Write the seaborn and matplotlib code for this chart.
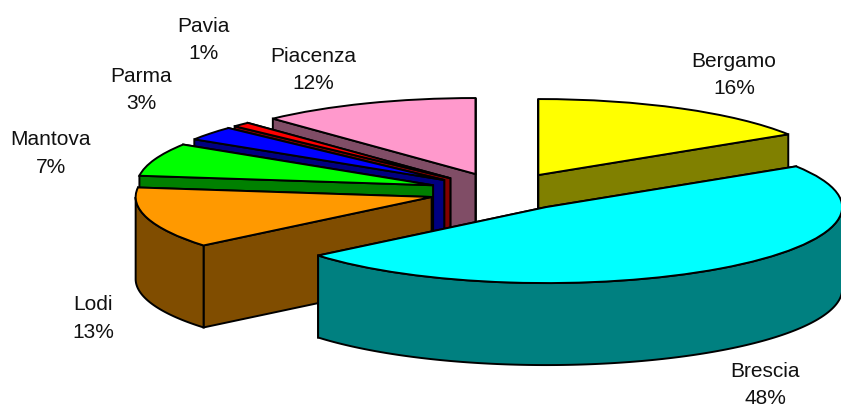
import numpy as np
import seaborn as sns
import matplotlib.pyplot as plt
from matplotlib.patches import Polygon

categories = ['Bergamo', 'Brescia', 'Lodi', 'Mantova', 'Parma', 'Pavia', 'Piacenza']
shares = [16, 48, 13, 7, 3, 1, 12]
top_colors = ['#FFFF00', '#00FFFF', '#FF9900', '#00FF00', '#0000FF', '#FF0000', '#FF99CC']
side_colors = ['#808000', '#008080', '#804D00', '#008000', '#000080', '#800000', '#804D66']

# label centres in pixels of the 841x407 picture
label_px = [(734, 75), (765, 385), (93, 318.5), (51, 153.5), (141, 90), (203, 40), (313, 70)]

W, H = 841, 407
RX, RY = 296, 76      # pixel size of one pie radius
CX, CY = 502.7, 191.7   # pie centre in pixels
DEPTH = 82 / RY
LW = 1.4

sns.set_style('white')
plt.rcParams['font.family'] = ['Liberation Sans', 'DejaVu Sans']

fig = plt.figure(figsize=(W / 100, H / 100), dpi=100)
ax = fig.add_axes([0, 0, 1, 1])
wedges, _ = ax.pie(shares, explode=[0.25] * len(shares), colors=top_colors, startangle=90,
                   counterclock=False, wedgeprops={'edgecolor': 'black', 'linewidth': LW})

# the pie is squashed by giving x and y different scales
ax.set_aspect('auto')
ax.set_xlim(-CX / RX, (W - CX) / RX)
ax.set_ylim(-(H - CY) / RY, CY / RY)


def side_patch(points, color, z):
    top = np.array(points)
    bottom = top[::-1] - [0, DEPTH]
    ax.add_patch(Polygon(np.vstack([top, bottom]), closed=True, facecolor=color,
                         edgecolor='black', linewidth=LW, zorder=z))


# back slices first, the ones nearer the viewer paint over them
order = sorted(range(len(wedges)), key=lambda i: -wedges[i].center[1])
for rank, i in enumerate(order):
    w = wedges[i]
    cx, cy = w.center
    z = 2 + rank * 3
    for a in (w.theta1, w.theta2):
        r = np.radians(a)
        side_patch([(cx, cy), (cx + w.r * np.cos(r), cy + w.r * np.sin(r))], side_colors[i], z)
    # only the front part of the rim can be seen
    t = np.radians(np.linspace(w.theta1, w.theta2, 200))
    t = t[np.sin(t) <= 0]
    if len(t) > 1:
        side_patch(np.column_stack([cx + w.r * np.cos(t), cy + w.r * np.sin(t)]), side_colors[i], z + 1)
    w.set_zorder(z + 2)

for name, share, (px, py) in zip(categories, shares, label_px):
    ax.text(px / W, 1 - py / H, f'{name}\n{share}%', transform=ax.transAxes, ha='center', va='center',
            fontsize=15, color='#111111', linespacing=1.55, zorder=100)

fig.savefig('out.png', dpi=100)
